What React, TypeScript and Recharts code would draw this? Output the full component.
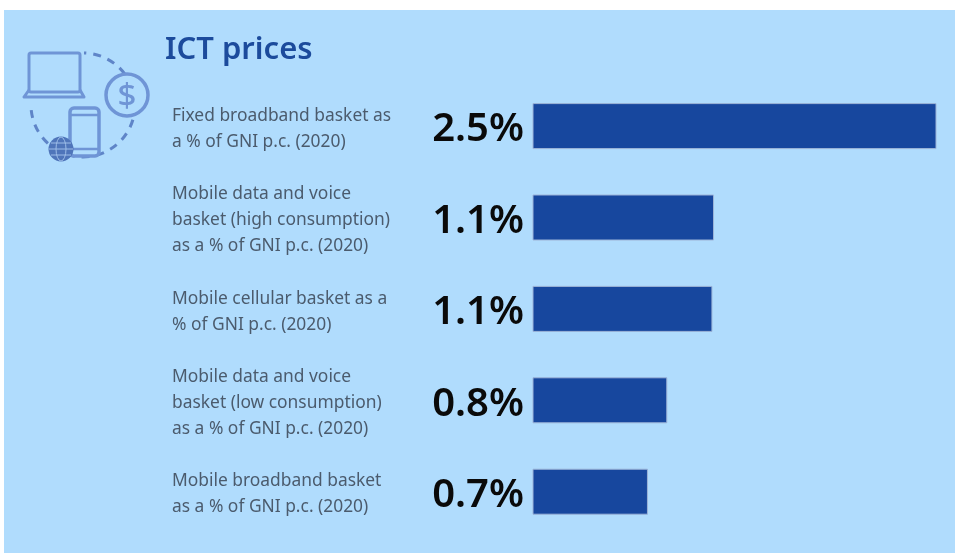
import { BarChart, Bar, XAxis, YAxis, LabelList } from 'recharts';

const categories = [
  'Fixed broadband basket as a % of GNI p.c. (2020)',
  'Mobile data and voice basket (high consumption) as a % of GNI p.c. (2020)',
  'Mobile cellular basket as a % of GNI p.c. (2020)',
  'Mobile data and voice basket (low consumption) as a % of GNI p.c. (2020)',
  'Mobile broadband basket as a % of GNI p.c. (2020)',
];
const categoryLines = [
  ['Fixed broadband basket as', 'a % of GNI p.c. (2020)'],
  ['Mobile data and voice', 'basket (high consumption)', 'as a % of GNI p.c. (2020)'],
  ['Mobile cellular basket as a', '% of GNI p.c. (2020)'],
  ['Mobile data and voice', 'basket (low consumption)', 'as a % of GNI p.c. (2020)'],
  ['Mobile broadband basket', 'as a % of GNI p.c. (2020)'],
];
const values = [2.5, 1.12, 1.11, 0.83, 0.71];
const valueLabels = ['2.5%', '1.1%', '1.1%', '0.8%', '0.7%'];

const data = categories.map((name, i) => ({ name, value: values[i], label: valueLabels[i] }));

const FONT = '"Noto Sans", "Open Sans", sans-serif';

function CategoryTick({ y, index }: any) {
  const lines = categoryLines[index] ?? [];
  const top = y + 0.5 - ((lines.length - 1) * 26) / 2;
  return (
    <text fontFamily={FONT} fontSize={17.4} fill="#4b5b6d" dominantBaseline="central">
      {lines.map((line, i) => (
        <tspan key={line} x={172} y={top + i * 26}>
          {line}
        </tspan>
      ))}
    </text>
  );
}

function Icon() {
  const stroke = '#6f95d6';
  return (
    <svg width={150} height={130} style={{ position: 'absolute', left: 15, top: 45 }} viewBox="15 45 150 130">
      <circle cx={83} cy={105} r={52} fill="none" stroke="#5f85c8" strokeWidth={3} strokeDasharray="8 7" />
      <rect x={22} y={48} width={62} height={56} fill="#b0dcfd" />
      <rect x={29} y={53} width={51} height={39} fill="none" stroke={stroke} strokeWidth={3} rx={2} />
      <path d="M29 90 L24 97 H84 L80 90" fill="none" stroke={stroke} strokeWidth={3} strokeLinejoin="round" />
      <circle cx={127} cy={95} r={21} fill="#b0dcfd" stroke={stroke} strokeWidth={3.5} />
      <text x={127} y={107} textAnchor="middle" fontFamily={FONT} fontSize={33} fontWeight={500} fill={stroke}>
        $
      </text>
      <rect x={70} y={108} width={29} height={48} rx={4} fill="#b0dcfd" stroke={stroke} strokeWidth={3.5} />
      <line x1={71} y1={149} x2={98} y2={149} stroke={stroke} strokeWidth={2.5} />
      <line x1={71} y1={115} x2={98} y2={115} stroke={stroke} strokeWidth={2.5} />
      <circle cx={61} cy={149} r={12.5} fill="#4f75ba" />
      <ellipse cx={61} cy={149} rx={5} ry={12} fill="none" stroke="#9dbde8" strokeWidth={1} />
      <line x1={49} y1={149} x2={73} y2={149} stroke="#9dbde8" strokeWidth={1} />
      <line x1={51} y1={143} x2={71} y2={143} stroke="#9dbde8" strokeWidth={1} />
      <line x1={51} y1={155} x2={71} y2={155} stroke="#9dbde8" strokeWidth={1} />
    </svg>
  );
}

export default function App() {
  return (
    <div style={{ position: 'fixed', left: 0, top: 0, width: 955, height: 553, background: '#fff', overflow: 'hidden' }}>
      <div style={{ position: 'absolute', left: 4, top: 10, width: 951, height: 543, background: '#b0dcfd' }} />
      <div style={{ position: 'absolute', left: 0, top: 0, width: 955, height: 553, filter: 'blur(0.7px)' }}>
        <Icon />
        <div
          style={{
            position: 'absolute',
            left: 165,
            top: 26,
            fontFamily: FONT,
            fontSize: 31,
            fontWeight: 600,
            lineHeight: '42px',
            color: '#1c4b9c',
          }}
        >
          ICT prices
        </div>
        <BarChart
          width={955}
          height={553}
          data={data}
          layout="vertical"
          margin={{ top: 80.6, right: 19, bottom: 15.4, left: 0 }}
          style={{ position: 'absolute', left: 0, top: 0 }}
        >
          <XAxis type="number" domain={[0, 2.5]} hide />
          <YAxis
            type="category"
            dataKey="name"
            width={533}
            axisLine={false}
            tickLine={false}
            interval={0}
            tick={<CategoryTick />}
          />
          <Bar dataKey="value" fill="#17479e" stroke="#9db4d8" strokeWidth={1} barSize={45} isAnimationActive={false}>
            <LabelList
              dataKey="label"
              position="left"
              offset={9}
              fill="#0a0a0a"
              fontFamily={FONT}
              fontSize={40}
              fontWeight={600}
              dy={1}
            />
          </Bar>
        </BarChart>
      </div>
    </div>
  );
}
